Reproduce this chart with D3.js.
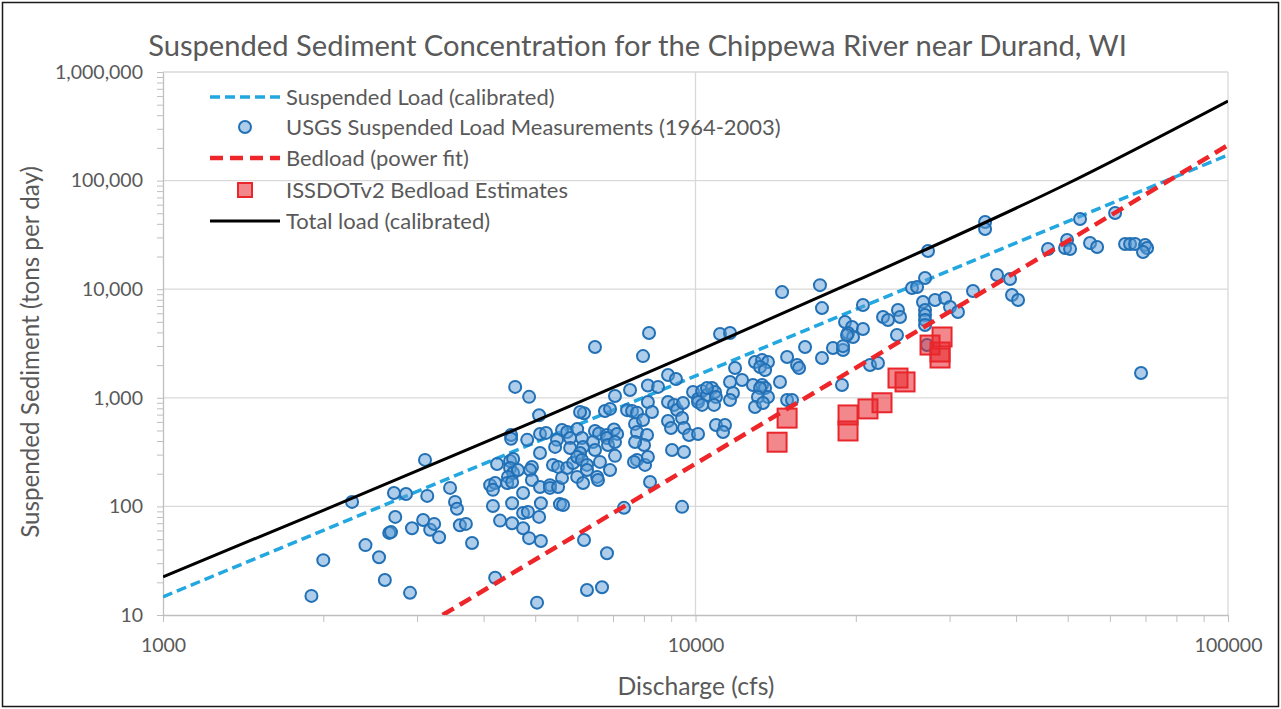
<!DOCTYPE html>
<html>
<head>
<meta charset="utf-8">
<script src="https://cdn.jsdelivr.net/npm/d3@7/dist/d3.min.js"></script>
<style>
  html, body { margin: 0; padding: 0; background: #fff; }
  svg { display: block; font-family: Lato, "Open Sans", sans-serif; }
</style>
</head>
<body>
<svg id="chart" width="1281" height="709"></svg>
<script>
// ---- Data ----------------------------------------------------------------
const chartTitle = "Suspended Sediment Concentration for the Chippewa River near Durand, WI";
const xTitle = "Discharge (cfs)";
const yTitle = "Suspended Sediment (tons per day)";

const xTickValues = [1000, 10000, 100000];
const xTickLabels = ["1000", "10000", "100000"];
const yTickValues = [10, 100, 1000, 10000, 100000, 1000000];
const yTickLabels = ["10", "100", "1,000", "10,000", "100,000", "1,000,000"];

const legendLabels = [
  "Suspended Load (calibrated)",
  "USGS Suspended Load Measurements (1964-2003)",
  "Bedload (power fit)",
  "ISSDOTv2 Bedload Estimates",
  "Total load (calibrated)"
];

// USGS suspended load measurements: discharge (cfs) and load (tons/day)
const usgsDischarge = [
  1900, 2000, 2265, 2400, 2545, 2610, 2660, 2680, 2715, 2730,
  2860, 2910, 2935, 3080, 3105, 3135, 3175, 3230, 3300, 3460,
  3535, 3565, 3610, 3705, 3805, 4115, 4205, 4165, 4165, 4205,
  4240, 4295, 4525, 4745, 4845, 5125, 5565, 5640, 4525, 5085,
  4745, 4870, 5125, 5040, 6175, 6820, 6255, 6675, 7340, 4585,
  4870, 5085, 6175, 7060, 7535, 8140, 8505, 6760, 6910, 7440,
  7600, 7765, 4505, 4505, 4830, 5105, 5240, 5615, 5740, 5995,
  6475, 6590, 6820, 7030, 7125, 7700, 7765, 8110, 5495, 5450,
  5815, 5815, 6120, 6150, 6070, 6420, 6475, 6820, 6850, 7060,
  8005, 5105, 4485, 4545, 7060, 7765, 7665, 5400, 5520, 5740,
  5890, 5995, 6120, 6255, 6255, 6615, 6910, 4485, 4545, 4445,
  4640, 4930, 4890, 4430, 4525, 4930, 4745, 5105, 5330, 5330,
  5520, 5615, 5995, 6150, 6535, 6560, 8215, 8040, 8180, 6475,
  7970, 8140, 8285, 6070, 7700, 8140, 7970, 9435, 8880, 9190,
  9895, 10110, 10290, 10510, 10740, 10880, 10925, 8880, 9115, 9235,
  9475, 10110, 10290, 10835, 8880, 8995, 9435, 9515, 9725, 10110,
  10925, 11360, 11265, 9035, 9515, 11120, 11610, 11610, 11760, 11610,
  11865, 12230, 14540, 17130, 17280, 20630, 22500, 22985, 24000, 19090,
  19680, 19340, 19760, 19255, 20630, 23900, 16060, 18120, 18925, 18925,
  17280, 14860, 15515, 15650, 12935, 13335, 13680, 13220, 13510, 12820,
  13335, 13510, 13220, 14410, 13680, 13100, 12935, 13390, 10510, 14860,
  15180, 18840, 21270, 22015, 34980, 34980, 27330, 45920, 26980, 25500,
  26070, 36840, 38965, 33200, 39300, 40340, 26745, 28175, 29420, 30060,
  31110, 26980, 26980, 26980, 26980, 24215, 27215, 52740, 61370, 49870,
  49430, 50510, 55070, 56780, 64080, 65470, 66910, 69870, 70480, 69250,
  68660
];
const usgsLoad = [
  15, 32, 110, 44, 34, 21, 57, 58, 133, 80,
  130, 16, 63, 75, 268, 125, 61, 69, 52, 148,
  110, 95, 67, 69, 46, 157, 164, 142, 101, 22,
  246, 74, 107, 87, 89, 107, 105, 103, 70, 80,
  63, 51, 48, 13, 49, 37, 17, 18, 97, 1260,
  1020, 690, 720, 1040, 1180, 1300, 1260, 755, 790, 770,
  755, 730, 455, 420, 410, 465, 475, 505, 485, 515,
  495, 470, 455, 510, 465, 575, 485, 455, 410, 353,
  427, 345, 427, 353, 310, 392, 331, 427, 368, 392,
  368, 310, 262, 273, 292, 268, 257, 241, 231, 226,
  251, 285, 268, 241, 216, 257, 216, 226, 203, 187,
  216, 231, 216, 164, 168, 175, 133, 151, 157, 148,
  151, 183, 187, 164, 187, 175, 168, 241, 3950, 2940,
  2420, 916, 740, 740, 392, 285, 625, 99, 1620, 1490,
  1130, 975, 1155, 1060, 1230, 1130, 1017, 916, 860, 772,
  896, 916, 860, 860, 612, 527, 652, 527, 454, 464,
  562, 562, 484, 331, 317, 3870, 3950, 1400, 1107, 955,
  1880, 1458, 9400, 10900, 6700, 7150, 5550, 5200, 6430, 4990,
  4490, 3950, 3630, 3785, 4300, 3785, 2940, 2870, 2750, 2990,
  2325, 2375, 2005, 1880, 2135, 2230, 2135, 1920, 1800, 1310,
  1310, 1230, 1230, 1400, 1017, 1017, 823, 896, 1230, 955,
  955, 1310, 2005, 2090, 41600, 35800, 22480, 23440, 12670, 10250,
  10470, 13500, 12400, 9620, 8850, 7955, 7630, 7955, 8300, 6860,
  6170, 6430, 5790, 5200, 4680, 5550, 3060, 44300, 50300, 28400,
  23950, 23440, 26640, 24480, 26100, 26100, 26100, 25540, 23950, 22010,
  1690
];

// ISSDOTv2 bedload estimates
const issdotDischarge = [14230, 14860, 19340, 19340, 21080, 22400, 24005, 24745, 27570, 28790, 29040, 28790];
const issdotLoad      = [390,   650,   695,   495,   790,   900,   1520,  1400,  3060,  2640,  3630,  2325];

// Fitted curves (discharge, load)
const suspendedFitDischarge = [1000, 100000];
const suspendedFitLoad      = [14.7, 172000];
const bedloadFitDischarge   = [3350, 100000];
const bedloadFitLoad        = [10, 212000];
const totalFitDischarge     = [1000, 2000, 5000, 10000, 20000, 50000, 100000];
const totalFitLoad          = [22.5, 92, 610, 2650, 11900, 94000, 540000];

// ---- Layout --------------------------------------------------------------
const W = 1281, H = 709;
const plot = { left: 163, right: 1228, top: 72, bottom: 615 };
const textColor = "#595959";
const gridColor = "#d9d9d9";

const svg = d3.select("#chart");
const x = d3.scaleLog().domain([1000, 100000]).range([plot.left, plot.right]);
const y = d3.scaleLog().domain([10, 1000000]).range([plot.bottom, plot.top]);

svg.append("rect").attr("width", W).attr("height", H).attr("fill", "#fff");
svg.append("rect")
  .attr("x", 2.5).attr("y", 2.5).attr("width", W - 5).attr("height", H - 5)
  .attr("fill", "none").attr("stroke", "#1a1a1a").attr("stroke-width", 1.5);

// Shrink or grow a text element's font so that it spans a given width
function fitWidth(sel, target) {
  const fs = parseFloat(sel.attr("font-size"));
  const w = sel.node().getComputedTextLength();
  if (w > 0) sel.attr("font-size", fs * target / w);
  return parseFloat(sel.attr("font-size"));
}

// ---- Gridlines -----------------------------------------------------------
const grid = svg.append("g");
grid.selectAll("line.h").data(yTickValues.slice(1)).join("line")
  .attr("class", "h")
  .attr("x1", plot.left).attr("x2", plot.right)
  .attr("y1", d => y(d)).attr("y2", d => y(d))
  .attr("stroke", gridColor).attr("stroke-width", 1.3);
grid.selectAll("line.v").data(xTickValues.slice(1)).join("line")
  .attr("class", "v")
  .attr("y1", plot.top).attr("y2", plot.bottom)
  .attr("x1", d => x(d)).attr("x2", d => x(d))
  .attr("stroke", gridColor).attr("stroke-width", 1.3);

// ---- Axes (decade labels, minor ticks at 2..9) ---------------------------
function logTicks(lo, hi) {
  const out = [];
  for (let p = lo; p < hi; p *= 10) for (let m = 1; m < 10; m++) out.push(p * m);
  out.push(hi);
  return out;
}
const xLabelOf = new Map(xTickValues.map((v, i) => [v, xTickLabels[i]]));
const yLabelOf = new Map(yTickValues.map((v, i) => [v, yTickLabels[i]]));

const xAxis = svg.append("g").attr("transform", `translate(0,${plot.bottom})`)
  .call(d3.axisBottom(x).tickValues(logTicks(1000, 100000))
    .tickFormat(d => xLabelOf.get(d) || "").tickSizeInner(7).tickSizeOuter(0).tickPadding(16));
const yAxis = svg.append("g").attr("transform", `translate(${plot.left},0)`)
  .call(d3.axisLeft(y).tickValues(logTicks(10, 1000000))
    .tickFormat(d => yLabelOf.get(d) || "").tickSizeInner(6).tickSizeOuter(0).tickPadding(14));

[xAxis, yAxis].forEach(g => {
  g.select(".domain").attr("stroke", "#bfbfbf").attr("stroke-width", 1.3);
  g.selectAll(".tick line").attr("stroke", "#bfbfbf").attr("stroke-width", 1);
  g.selectAll(".tick text").attr("fill", textColor).attr("font-size", 19.5)
    .attr("font-family", "Lato, 'Open Sans', sans-serif");
});

// ---- Marks ---------------------------------------------------------------
svg.append("clipPath").attr("id", "plot-clip").append("rect")
  .attr("x", plot.left).attr("y", plot.top)
  .attr("width", plot.right - plot.left).attr("height", plot.bottom - plot.top);
const marks = svg.append("g").attr("clip-path", "url(#plot-clip)");

const zip = (a, b) => a.map((v, i) => [v, b[i]]);
const line = d3.line().x(d => x(d[0])).y(d => y(d[1]));
const smooth = d3.line().x(d => x(d[0])).y(d => y(d[1])).curve(d3.curveMonotoneX);

const blueDash = { stroke: "#22a7e0", width: 3.5, dash: "10,5" };
const redDash = { stroke: "#ee2529", width: 4.5, dash: "13,7" };

marks.append("path").datum(zip(suspendedFitDischarge, suspendedFitLoad))
  .attr("d", line).attr("fill", "none")
  .attr("stroke", blueDash.stroke).attr("stroke-width", blueDash.width)
  .attr("stroke-dasharray", blueDash.dash);

const pointStyle = { r: 6, fill: "#5b9bd5", fillOpacity: 0.5, stroke: "#2270b5", strokeWidth: 2 };
marks.append("g").selectAll("circle").data(zip(usgsDischarge, usgsLoad)).join("circle")
  .attr("cx", d => x(d[0])).attr("cy", d => y(d[1])).attr("r", pointStyle.r)
  .attr("fill", pointStyle.fill).attr("fill-opacity", pointStyle.fillOpacity)
  .attr("stroke", pointStyle.stroke).attr("stroke-width", pointStyle.strokeWidth);

marks.append("path").datum(zip(bedloadFitDischarge, bedloadFitLoad))
  .attr("d", line).attr("fill", "none")
  .attr("stroke", redDash.stroke).attr("stroke-width", redDash.width)
  .attr("stroke-dasharray", redDash.dash);

const squareStyle = { size: 19, fill: "#e8262c", fillOpacity: 0.55, stroke: "#e8262c", strokeWidth: 2 };
marks.append("g").selectAll("rect").data(zip(issdotDischarge, issdotLoad)).join("rect")
  .attr("x", d => x(d[0]) - squareStyle.size / 2).attr("y", d => y(d[1]) - squareStyle.size / 2)
  .attr("width", squareStyle.size).attr("height", squareStyle.size)
  .attr("fill", squareStyle.fill).attr("fill-opacity", squareStyle.fillOpacity)
  .attr("stroke", squareStyle.stroke).attr("stroke-width", squareStyle.strokeWidth);

marks.append("path").datum(zip(totalFitDischarge, totalFitLoad))
  .attr("d", smooth).attr("fill", "none")
  .attr("stroke", "#000").attr("stroke-width", 3);

// ---- Titles --------------------------------------------------------------
const title = svg.append("text")
  .attr("x", 637.5).attr("y", 56).attr("text-anchor", "middle")
  .attr("fill", textColor).attr("font-size", 26).text(chartTitle);
fitWidth(title, 979);

const xt = svg.append("text")
  .attr("x", 696).attr("y", 695).attr("text-anchor", "middle")
  .attr("fill", textColor).attr("font-size", 21).text(xTitle);
fitWidth(xt, 157);

const yt = svg.append("text")
  .attr("transform", "translate(39,352) rotate(-90)").attr("text-anchor", "middle")
  .attr("fill", textColor).attr("font-size", 21).text(yTitle);
fitWidth(yt, 372);

// ---- Legend --------------------------------------------------------------
const legend = svg.append("g");
const rowY = [97, 127, 158, 190, 221];
const symX0 = 210, symX1 = 280, textX = 286;

const rows = legend.selectAll("g").data(legendLabels).join("g")
  .attr("transform", (d, i) => `translate(0,${rowY[i]})`);
const texts = rows.append("text")
  .attr("x", textX).attr("y", 0).attr("dy", "0.35em")
  .attr("fill", textColor).attr("font-size", 19).text(d => d);
const legendSize = fitWidth(d3.select(texts.nodes()[1]), 495);
texts.attr("font-size", legendSize);

d3.select(rows.nodes()[0]).append("line")
  .attr("x1", symX0).attr("x2", symX1)
  .attr("stroke", blueDash.stroke).attr("stroke-width", blueDash.width)
  .attr("stroke-dasharray", blueDash.dash);
d3.select(rows.nodes()[1]).append("circle")
  .attr("cx", (symX0 + symX1) / 2).attr("r", pointStyle.r)
  .attr("fill", pointStyle.fill).attr("fill-opacity", pointStyle.fillOpacity)
  .attr("stroke", pointStyle.stroke).attr("stroke-width", pointStyle.strokeWidth);
d3.select(rows.nodes()[2]).append("line")
  .attr("x1", symX0).attr("x2", symX1)
  .attr("stroke", redDash.stroke).attr("stroke-width", redDash.width)
  .attr("stroke-dasharray", redDash.dash);
d3.select(rows.nodes()[3]).append("rect")
  .attr("x", (symX0 + symX1) / 2 - 7).attr("y", -7).attr("width", 14).attr("height", 14)
  .attr("fill", squareStyle.fill).attr("fill-opacity", squareStyle.fillOpacity)
  .attr("stroke", squareStyle.stroke).attr("stroke-width", squareStyle.strokeWidth);
d3.select(rows.nodes()[4]).append("line")
  .attr("x1", symX0).attr("x2", symX1)
  .attr("stroke", "#000").attr("stroke-width", 3);
</script>
</body>
</html>
